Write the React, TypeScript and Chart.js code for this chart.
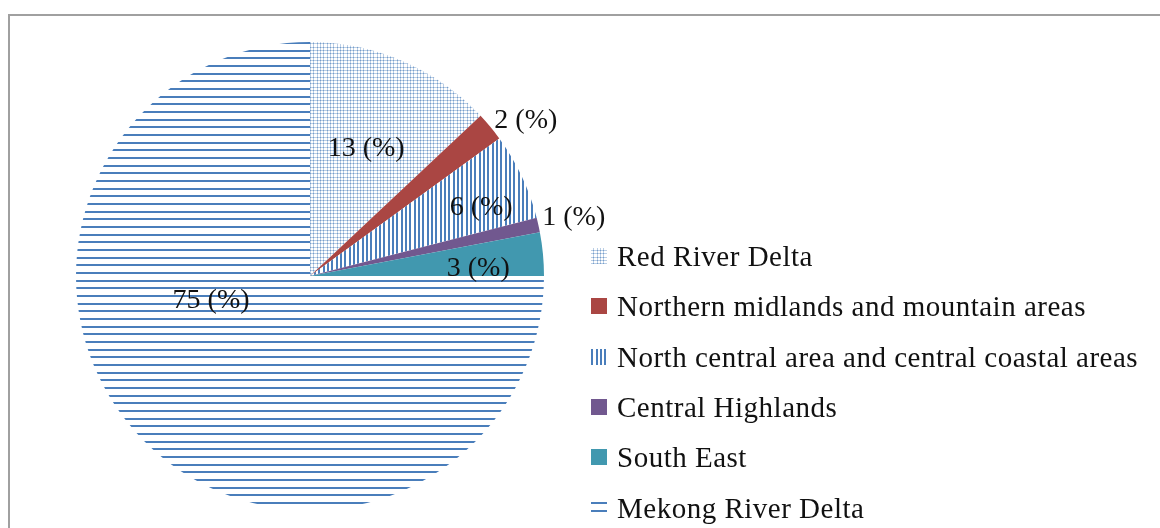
import React, { useEffect, useRef } from "react";
import { Chart, registerables } from "chart.js";

Chart.register(...registerables);

// Regional shares (%)
const regions = [
  "Red River Delta",
  "Northern midlands and mountain areas",
  "North central area and central coastal areas",
  "Central Highlands",
  "South East",
  "Mekong River Delta",
];
const shares = [13, 2, 6, 1, 3, 75];
const valueLabels = ["13 (%)", "2 (%)", "6 (%)", "1 (%)", "3 (%)", "75 (%)"];

const BLUE = "#4a7ebb";
const LABEL_FONT = '28px "Liberation Serif", "Times New Roman", serif';
const LEGEND_FONT = '29px "Liberation Serif", "Times New Roman", serif';

function tile(w: number, h: number, paint: (g: CanvasRenderingContext2D) => void): CanvasPattern {
  const c = document.createElement("canvas");
  c.width = w;
  c.height = h;
  const g = c.getContext("2d")!;
  g.fillStyle = "#ffffff";
  g.fillRect(0, 0, w, h);
  paint(g);
  return g.createPattern(c, "repeat")!;
}

function buildFills(): (string | CanvasPattern)[] {
  const dotted = tile(10, 10, (g) => {
    g.fillStyle = "rgba(74,126,187,0.38)";
    for (const p of [0, 3, 7]) {
      g.fillRect(p, 0, 1, 10);
      g.fillRect(0, p, 10, 1);
    }
    g.fillStyle = "rgba(74,126,187,0.35)";
    for (const a of [0, 3, 7]) for (const b of [0, 3, 7]) g.fillRect(a, b, 1, 1);
  });
  const vertical = tile(13, 4, (g) => {
    g.fillStyle = BLUE;
    for (const p of [2, 6, 11]) g.fillRect(p, 0, 2, 4);
  });
  const horizontal = tile(4, 23, (g) => {
    g.fillStyle = BLUE;
    for (const p of [4, 11, 19]) g.fillRect(0, p, 4, 2);
  });
  return [dotted, "#aa4643", vertical, "#71588f", "#4198af", horizontal];
}

// where each value label sits: fraction of radius and angular nudge (deg)
const labelPlace = [
  { frac: 0.6, nudge: 0.2 },
  { frac: 1.14, nudge: 3.6 },
  { frac: 0.79, nudge: 3 },
  { frac: 1.155, nudge: 0 },
  { frac: 0.72, nudge: 2.4 },
  { frac: 0.435, nudge: 31.4 },
];

const valueLabelPlugin = {
  id: "valueLabels",
  afterDatasetsDraw(chart: any) {
    const { ctx } = chart;
    const meta = chart.getDatasetMeta(0);
    ctx.save();
    ctx.font = LABEL_FONT;
    ctx.fillStyle = "#111";
    ctx.textAlign = "center";
    ctx.textBaseline = "middle";
    meta.data.forEach((arc: any, i: number) => {
      const { x, y, startAngle, endAngle, outerRadius } = arc.getProps(
        ["x", "y", "startAngle", "endAngle", "outerRadius"],
        true
      );
      const p = labelPlace[i];
      const a = (startAngle + endAngle) / 2 + (p.nudge * Math.PI) / 180;
      const r = outerRadius * p.frac;
      ctx.fillText(valueLabels[i], x + Math.cos(a) * r, y + Math.sin(a) * r + 1);
    });
    ctx.restore();
  },
};

const legendPlugin = {
  id: "sideLegend",
  afterDraw(chart: any) {
    const { ctx } = chart;
    const fills = chart.data.datasets[0].backgroundColor;
    const left = 591;
    const top = 256;
    const step = 50.3;
    ctx.save();
    ctx.font = LEGEND_FONT;
    (ctx as any).letterSpacing = "0.5px";
    ctx.textBaseline = "alphabetic";
    ctx.textAlign = "left";
    regions.forEach((name, i) => {
      const cy = top + i * step;
      ctx.fillStyle = fills[i];
      ctx.fillRect(left, Math.round(cy - 8), 16, 16);
      ctx.fillStyle = "#111";
      ctx.fillText(name, left + 26, cy + 10);
    });
    ctx.restore();
  },
};

export default function App() {
  const ref = useRef<HTMLCanvasElement | null>(null);

  useEffect(() => {
    const canvas = ref.current;
    if (!canvas) return;
    const chart = new Chart(canvas, {
      type: "pie",
      data: {
        labels: regions,
        datasets: [
          {
            data: shares,
            backgroundColor: buildFills() as any,
            borderWidth: 0,
          },
        ],
      },
      options: {
        animation: false,
        responsive: false,
        devicePixelRatio: 1,
        layout: { padding: { left: 76, top: 42, right: 616, bottom: 18 } },
        plugins: {
          legend: { display: false },
          tooltip: { enabled: false },
        },
      },
      plugins: [valueLabelPlugin, legendPlugin],
    });
    return () => chart.destroy();
  }, []);

  return (
    <div
      style={{
        position: "fixed",
        left: 0,
        top: 0,
        width: 1160,
        height: 528,
        overflow: "hidden",
        background: "#fff",
      }}
    >
      <div
        style={{
          position: "absolute",
          left: 8,
          top: 14,
          width: 1300,
          height: 700,
          borderTop: "2px solid #a0a0a0",
          borderLeft: "2px solid #a0a0a0",
        }}
      />
      <canvas
        ref={ref}
        width={1160}
        height={528}
        style={{ position: "absolute", left: 0, top: 0, width: 1160, height: 528 }}
      />
    </div>
  );
}
